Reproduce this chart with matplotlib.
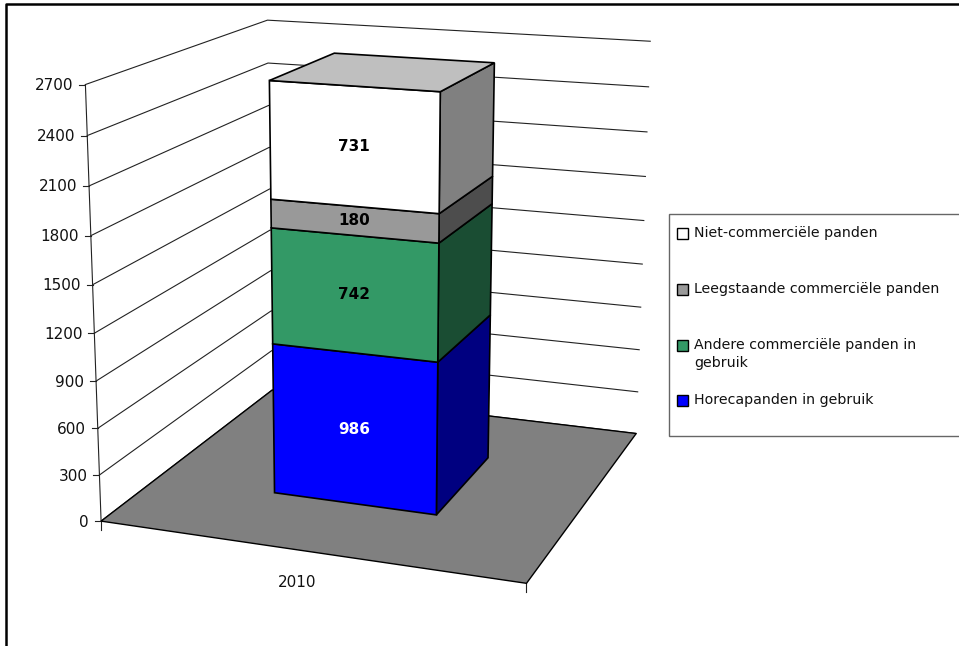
import numpy as np
import matplotlib
matplotlib.use('Agg')
import matplotlib.pyplot as plt
from matplotlib.patches import Polygon, Rectangle

# data
years = ['2010']
series_names = ['Horecapanden in gebruik', 'Andere commerciële panden in\ngebruik',
                'Leegstaande commerciële panden', 'Niet-commerciële panden']
values = [986, 742, 180, 731]
front_colors = ['#0000FF', '#339966', '#999999', '#FFFFFF']
side_colors = ['#000080', '#1A4D33', '#4D4D4D', '#808080']
label_colors = ['white', 'black', 'black', 'black']
top_color = '#BFBFBF'
y_ticks = [0, 300, 600, 900, 1200, 1500, 1800, 2100, 2400, 2700]
y_max = 2700

# chart box corners -> pixels, used to fit the perspective camera
box_world = [(0, 0, 0), (1, 0, 0), (1, 0, 1), (0, 0, 1),
             (0, 1, 0), (0, 1, 1), (1, 1, 1)]
box_pixels = [(101, 521), (527, 583), (636, 434), (272, 390),
              (85, 85), (268, 20), (650, 41)]


def fit_camera(world, pixels):
    rows, rhs = [], []
    for (u, v, d), (px, py) in zip(world, pixels):
        rows.append([u, v, d, 1, 0, 0, 0, 0, -px * u, -px * v, -px * d])
        rhs.append(px)
        rows.append([0, 0, 0, 0, u, v, d, 1, -py * u, -py * v, -py * d])
        rhs.append(py)
    return np.linalg.lstsq(np.array(rows, float), np.array(rhs, float), rcond=None)[0]


cam = fit_camera(box_world, box_pixels)


def project(u, value, d):
    v = value / y_max
    w = cam[8] * u + cam[9] * v + cam[10] * d + 1
    return ((cam[0] * u + cam[1] * v + cam[2] * d + cam[3]) / w,
            (cam[4] * u + cam[5] * v + cam[6] * d + cam[7]) / w)


fig = plt.figure(figsize=(9.59, 6.46), dpi=100)
ax = fig.add_axes([0, 0, 1, 1])
ax.set_xlim(0, 959)
ax.set_ylim(646, 0)
ax.axis('off')

# outer border
ax.plot([6, 6, 959], [646, 3.5, 3.5], color='black', lw=1.8, zorder=1)

# grid on the walls
for t in y_ticks:
    pts = [project(0, t, 0), project(0, t, 1), project(1, t, 1)]
    ax.plot(*zip(*pts), color='#222222', lw=0.8, zorder=2)
    x0, y0 = pts[0]
    ax.plot([x0 - 6, x0], [y0, y0], color='#222222', lw=0.8, zorder=2)
    ax.text(x0 - 12, y0 + 1, str(t), ha='right', va='center', fontsize=11, color='#111111')
ax.plot(*zip(project(0, 0, 0), project(0, y_max, 0)), color='#222222', lw=0.8, zorder=2)

# floor
floor = [project(0, 0, 0), project(1, 0, 0), project(1, 0, 1), project(0, 0, 1)]
ax.add_patch(Polygon(floor, closed=True, facecolor='#808080', edgecolor='black', lw=1, zorder=3))

# x ticks and label
for u in [0, 1]:
    x0, y0 = project(u, 0, 0)
    ax.plot([x0, x0], [y0, y0 + 9], color='#222222', lw=0.8, zorder=2)
xl, yl = project(0.5, 0, 0)
ax.text(xl - 9, yl + 31, years[0], ha='center', va='center', fontsize=11, color='#111111')

# stacked bar
u0, u1, d0, d1 = 0.3, 0.7, 0.3, 0.7
bottom = 0
for val, fc, sc, lc in zip(values, front_colors, side_colors, label_colors):
    top = bottom + val
    front = [project(u0, bottom, d0), project(u1, bottom, d0), project(u1, top, d0), project(u0, top, d0)]
    side = [project(u1, bottom, d0), project(u1, bottom, d1), project(u1, top, d1), project(u1, top, d0)]
    ax.add_patch(Polygon(side, closed=True, facecolor=sc, edgecolor='black', lw=1.2, zorder=4))
    ax.add_patch(Polygon(front, closed=True, facecolor=fc, edgecolor='black', lw=1.2, zorder=5))
    cx, cy = project((u0 + u1) / 2, bottom + val / 2, d0)
    ax.text(cx, cy, str(val), ha='center', va='center', fontsize=11, fontweight='bold', color=lc, zorder=6)
    bottom = top
lid = [project(u0, bottom, d0), project(u1, bottom, d0), project(u1, bottom, d1), project(u0, bottom, d1)]
ax.add_patch(Polygon(lid, closed=True, facecolor=top_color, edgecolor='black', lw=1.2, zorder=5))

# legend
ax.add_patch(Rectangle((669, 214), 300, 222, facecolor='white', edgecolor='#666666', lw=1, zorder=2))
legend_y = [233, 289, 345, 400]
for name, fc, ly in zip(series_names[::-1], front_colors[::-1], legend_y):
    ax.add_patch(Rectangle((677, ly - 5.5), 11, 11, facecolor=fc, edgecolor='black', lw=1, zorder=3))
    ax.text(694, ly - 7, name, ha='left', va='top', fontsize=10.2, color='#111111',
            linespacing=1.35, zorder=3)

fig.savefig('out.png', dpi=100)
